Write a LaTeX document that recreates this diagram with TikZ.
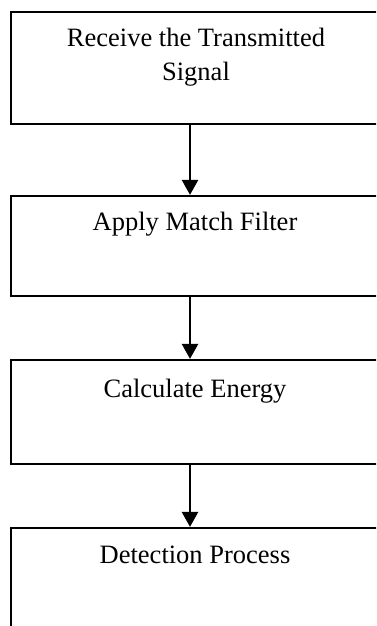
\documentclass[tikz,border=0pt]{standalone}
\usepackage{fontspec}
\setmainfont{Liberation Serif}
\usetikzlibrary{arrows.meta}
\begin{document}
\begin{tikzpicture}[x=1pt,y=1pt,
  stagebox/.style={draw=black, line width=2.2pt, rectangle, inner sep=0pt,
    minimum width=369pt},
  stagetext/.style={font=\fontsize{26.5}{33}\selectfont, align=center,
    inner sep=0pt, anchor=base},
  flow/.style={line width=2.5pt, -{Triangle[length=15pt,width=16pt]}}]
  \useasboundingbox (0,0) rectangle (376,-626);
  \clip (0,0) rectangle (376,-626);
  % process stages (right edges run past the frame)
  \node[stagebox, minimum height=112pt] (b1) at (195.5,-68) {};
  \node[stagebox, minimum height=100pt] (b2) at (195.5,-246) {};
  \node[stagebox, minimum height=104pt] (b3) at (195.5,-412) {};
  \node[stagebox, minimum height=140pt] (b4) at (195.5,-598) {};
  % stage captions (base anchor sits on the last line)
  \node[stagetext] (t1) at (196,-80) {Receive the Transmitted\\Signal};
  \node[stagetext] (t2) at (195,-230) {Apply Match Filter};
  \node[stagetext] (t3) at (195,-397) {Calculate Energy};
  \node[stagetext] (t4) at (195,-563) {Detection Process};
  % connectors
  \coordinate (ax) at (190,0);
  \draw[flow] (ax |- b1.south) -- (ax |- b2.north);
  \draw[flow] (ax |- b2.south) -- (ax |- b3.north);
  \draw[flow] (ax |- b3.south) -- (ax |- b4.north);
\end{tikzpicture}
\end{document}
